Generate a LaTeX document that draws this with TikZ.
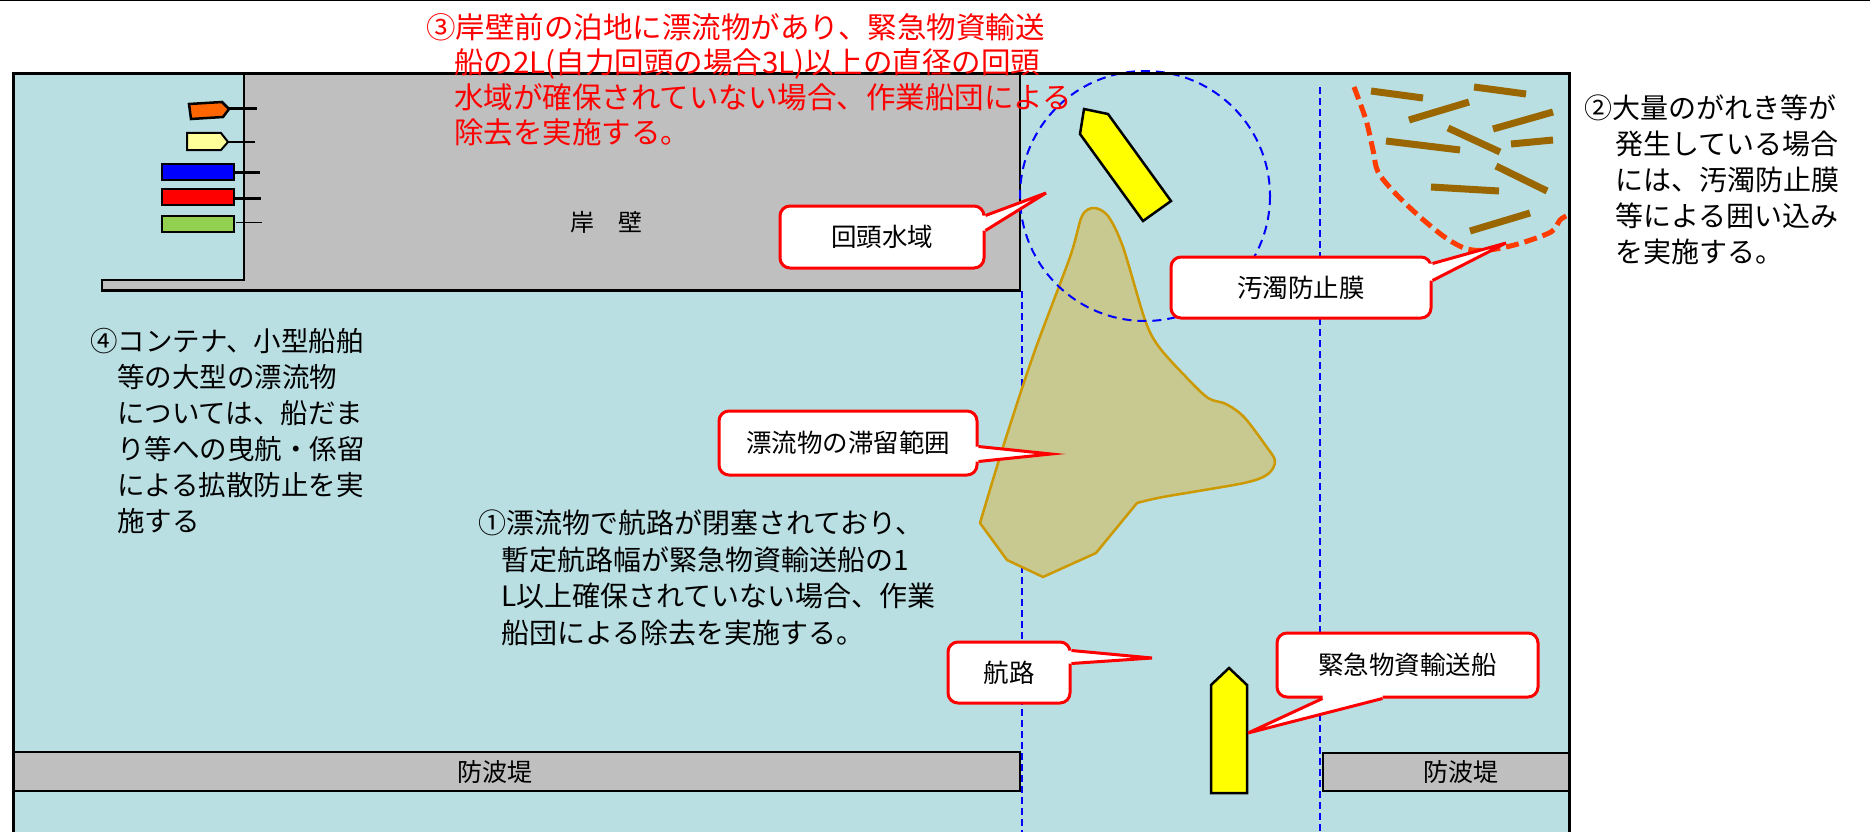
\documentclass[tikz,border=0pt]{standalone}
\usepackage{fontspec}
\setmainfont{Noto Sans CJK JP}
\usetikzlibrary{calc}

\definecolor{water}{RGB}{185,223,227}
\definecolor{quaygray}{RGB}{191,191,191}
\definecolor{driftfill}{RGB}{200,200,145}
\definecolor{driftline}{RGB}{204,153,0}
\definecolor{debris}{RGB}{153,102,0}
\definecolor{fence}{RGB}{255,60,0}
\definecolor{shipyellow}{RGB}{255,255,0}
\definecolor{paleyellow}{RGB}{255,255,153}
\definecolor{shiporange}{RGB}{255,102,0}
\definecolor{shipgreen}{RGB}{146,208,80}

% white callout wedge: base points #1,#2 on the box edge, tip #3, #4 = shift into the box
\newcommand\pointerwedge[4]{%
  \fill[white] ($(#1)+(#4)$) -- (#1) -- (#3) -- (#2) -- ($(#2)+(#4)$) -- cycle;
  \draw[red, line width=3pt, line join=miter] (#1) -- (#3) -- (#2);
}

\tikzset{
  callbox/.style={draw=red, line width=3pt, fill=white, rounded corners=10pt,
    inner sep=0pt, font=\fontsize{25.5}{30}\selectfont},
  quaybox/.style={draw=black, line width=2.5pt, fill=quaygray},
  shipbody/.style={draw=black, line width=2.5pt, line join=miter},
  mooring/.style={draw=black, line width=3pt},
  mooringthin/.style={draw=black, line width=1.7pt},
  channel/.style={draw=blue, line width=1.3pt, dash pattern=on 7pt off 4pt},
  debrisbar/.style={draw=debris, line width=7pt},
  notetext/.style={anchor=north west, inner sep=0pt, align=left},
}

\begin{document}
\begin{tikzpicture}[x=1pt, y=-1pt]
\useasboundingbox (0,0) rectangle (1870,832);

% top rule
\draw[line width=1.5pt] (0,0.75) -- (1870,0.75);

% harbour water
\fill[water] (13,74) rectangle (1569,840);

% quay
\draw[quaybox, line join=miter] (244,74) -- (1020,74) -- (1020,290.5) -- (102,290.5)
  -- (102,280) -- (244,280) -- cycle;
\node[font=\fontsize{24}{28}\selectfont] (quaylabel) at (606,222) {岸　壁};

% breakwaters
\draw[quaybox] (13,752) rectangle (1020,791);
\node[font=\fontsize{25}{30}\selectfont] (bwleft) at (495,772) {防波堤};
\draw[quaybox] (1323,753) rectangle (1569,791);
\node[font=\fontsize{25}{30}\selectfont] (bwright) at (1460.5,772) {防波堤};

% channel limits
\draw[channel] (1022,291) -- (1022,840);
\draw[channel] (1320,87) -- (1320,840);

% vessels moored at the quay
\draw[shipbody, fill=shiporange] (189,104) -- (222,102) -- (229,109) -- (223,117) -- (191,119) -- cycle;
\draw[mooring] (229,109) -- (257,109);
\draw[shipbody, line width=2pt, fill=paleyellow] (187,133) -- (221,133) -- (228,142) -- (221,150) -- (187,150) -- cycle;
\draw[mooringthin] (228,142) -- (255,142);
\draw[shipbody, line width=2pt, fill=blue] (162,164) rectangle (234,180);
\draw[mooring] (234,172) -- (260,172);
\draw[shipbody, line width=2pt, fill=red] (162,189) rectangle (234,204.5);
\draw[mooring] (234,198) -- (261,198);
\draw[shipbody, line width=2pt, fill=shipgreen] (162,216) rectangle (234,232);
\draw[mooringthin] (236,222.5) -- (262,222.5);

% area where drifting debris stays
\draw[driftline, fill=driftfill, line width=2.5pt, line join=round]
  (980,523) -- (1007,560) -- (1043,577) -- (1096,553) -- (1137,503)
  -- plot[smooth, tension=0.5] coordinates {(1137,503) (1163,497) (1244,483) (1268,474)
     (1275,461) (1266,446) (1244,417) (1226,404) (1208,398) (1186,377) (1159,347)
     (1145,320) (1123,247) (1108,216) (1094,208) (1082,216) (1070,257) (1034,353)
     (1003,447) (980,523)} -- cycle;

% turning basin
\draw[blue, line width=2pt, dash pattern=on 9pt off 6pt] (1145,196) circle[radius=125];

% turning vessel and emergency supply vessel
\draw[shipbody, fill=shipyellow] (1084,109) -- (1108,114) -- (1171,201) -- (1143,221) -- (1080,134) -- cycle;
\draw[shipbody, fill=shipyellow] (1211,793) -- (1211,685) -- (1229,668) -- (1247,685) -- (1247,793) -- cycle;

% floating debris
\draw[debrisbar] (1371,91) -- (1423,98);
\draw[debrisbar] (1474,87) -- (1526,94);
\draw[debrisbar] (1409,120) -- (1469,102);
\draw[debrisbar] (1493,129) -- (1553,112);
\draw[debrisbar] (1386,141) -- (1460,150);
\draw[debrisbar] (1448,128) -- (1500,152);
\draw[debrisbar] (1511,144) -- (1553,140);
\draw[debrisbar] (1496,166) -- (1547,191);
\draw[debrisbar] (1431,187) -- (1499,191);
\draw[debrisbar] (1470,231) -- (1530,213);

% silt fence
\draw[fence, line width=5pt, dash pattern=on 13pt off 6pt]
  plot[smooth, tension=0.5] coordinates {(1354,87) (1366,120) (1373,150) (1378,172) (1395,193)
    (1420,217) (1446,238) (1467,249) (1489,250) (1518,244) (1551,232) (1560,220) (1568,215)};

% harbour frame
\draw[line width=3pt, line join=miter] (13,840) -- (13,74) -- (1569,74) -- (1569,840);

% callouts
\node[callbox, minimum width=204pt, minimum height=62pt] (kaito) at (882,237) {回頭水域};
\coordinate (kaitoA) at ($(kaito.north east)+(0,11)$);
\coordinate (kaitoB) at ($(kaito.north east)+(0,26)$);
\coordinate (kaitoTip) at (1046,193);
\pointerwedge{kaitoA}{kaitoB}{kaitoTip}{-4,0}

\node[callbox, minimum width=260pt, minimum height=61pt] (odaku) at (1301,287.5) {汚濁防止膜};
\coordinate (odakuA) at ($(odaku.north east)+(0,8)$);
\coordinate (odakuB) at ($(odaku.north east)+(0,25)$);
\coordinate (odakuTip) at (1506,243);
\pointerwedge{odakuA}{odakuB}{odakuTip}{-4,0}

\node[callbox, minimum width=258pt, minimum height=64pt] (hyoryu) at (848,443) {漂流物の滞留範囲};
\coordinate (hyoryuA) at ($(hyoryu.north east)+(0,37)$);
\coordinate (hyoryuB) at ($(hyoryu.north east)+(0,52)$);
\coordinate (hyoryuTip) at (1051,454);
\pointerwedge{hyoryuA}{hyoryuB}{hyoryuTip}{-4,0}

\node[callbox, minimum width=122pt, minimum height=61pt] (koro) at (1009,672.5) {航路};
\coordinate (koroA) at ($(koro.north east)+(0,10)$);
\coordinate (koroB) at ($(koro.north east)+(0,23)$);
\coordinate (koroTip) at (1152,658);
\pointerwedge{koroA}{koroB}{koroTip}{-4,0}

\node[callbox, minimum width=261pt, minimum height=64pt] (kinkyu) at (1407.5,665) {緊急物資輸送船};
\coordinate (kinkyuA) at ($(kinkyu.south west)+(47,0)$);
\coordinate (kinkyuB) at ($(kinkyu.south west)+(107,0)$);
\coordinate (kinkyuTip) at (1248,733);
\pointerwedge{kinkyuA}{kinkyuB}{kinkyuTip}{0,-4}

% explanatory notes
\node[notetext, text=red, font=\fontsize{29.5}{35}\selectfont] (note3) at (426,13)
  {③岸壁前の泊地に漂流物があり、緊急物資輸送\\
   \hspace*{28pt}船の2L(自力回頭の場合3L)以上の直径の回頭\\
   \hspace*{28pt}水域が確保されていない場合、作業船団による\\
   \hspace*{28pt}除去を実施する。};

\node[notetext, font=\fontsize{28}{36}\selectfont] (note2) at (1584,95)
  {②大量のがれき等が\\
   \hspace*{31pt}発生している場合\\
   \hspace*{31pt}には、汚濁防止膜\\
   \hspace*{31pt}等による囲い込み\\
   \hspace*{31pt}を実施する。};

\node[notetext, font=\fontsize{27.5}{36}\selectfont] (note4) at (90,328)
  {④コンテナ、小型船舶\\
   \hspace*{27pt}等の大型の漂流物\\
   \hspace*{27pt}については、船だま\\
   \hspace*{27pt}り等への曳航・係留\\
   \hspace*{27pt}による拡散防止を実\\
   \hspace*{27pt}施する};

\node[notetext, font=\fontsize{28}{36.5}\selectfont] (note1) at (478,510)
  {①漂流物で航路が閉塞されており、\\
   \hspace*{23pt}暫定航路幅が緊急物資輸送船の1\\
   \hspace*{23pt}L以上確保されていない場合、作業\\
   \hspace*{23pt}船団による除去を実施する。};
\end{tikzpicture}
\end{document}
